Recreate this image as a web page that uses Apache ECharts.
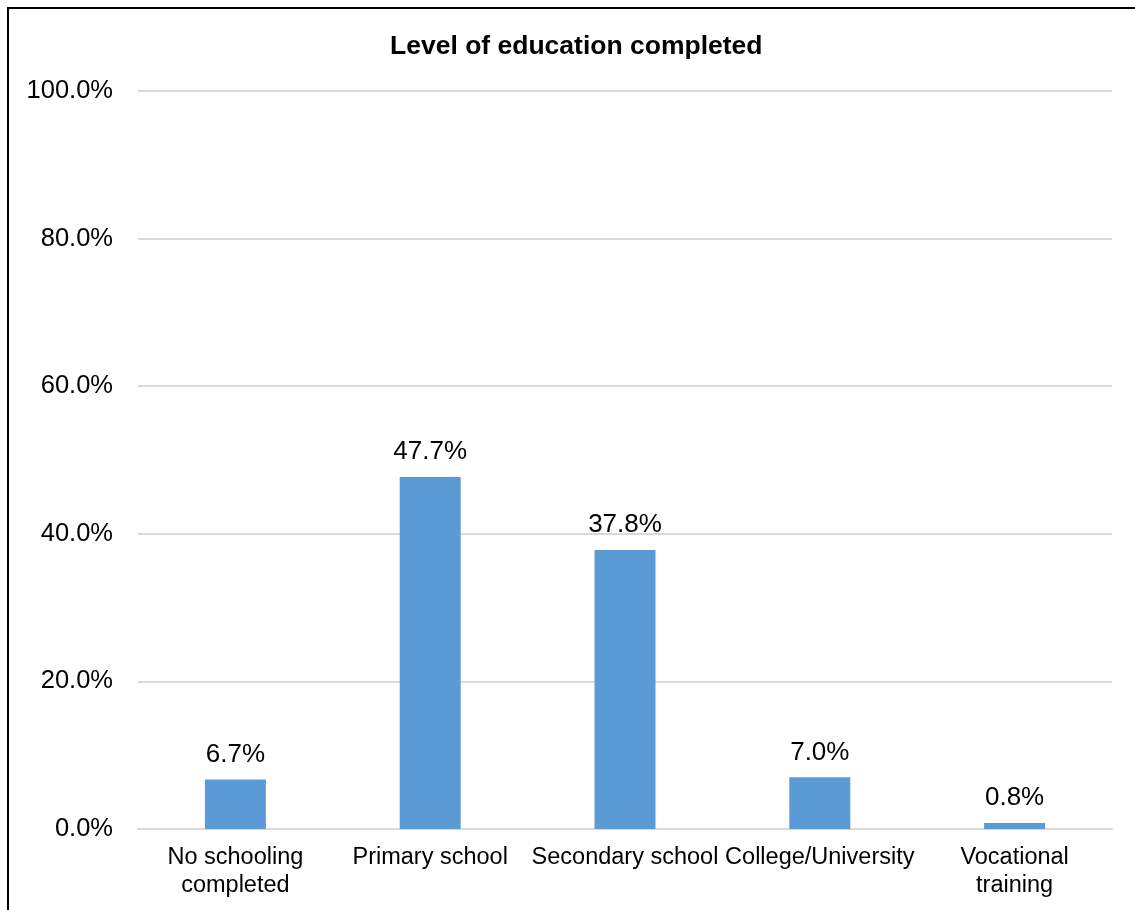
<!DOCTYPE html>
<html>
<head>
<meta charset="utf-8">
<title>Level of education completed</title>
<script src="https://cdn.jsdelivr.net/npm/echarts@6/dist/echarts.min.js"></script>
<style>
  html, body { margin: 0; padding: 0; background: #ffffff; }
  #frame {
    position: absolute; left: 7px; top: 7px; width: 1128px; height: 903px;
    border-left: 2px solid #000; border-top: 2px solid #000; box-sizing: border-box;
  }
  #chart { position: absolute; left: 0; top: 0; width: 1135px; height: 910px; }
</style>
</head>
<body>
<div id="frame"></div>
<div id="chart"></div>
<script>
// Education levels and the share of respondents (%) for each
const categories = ['No schooling\ncompleted', 'Primary school', 'Secondary school', 'College/University', 'Vocational\ntraining'];
const shares = [6.7, 47.7, 37.8, 7.0, 0.8];
const yTicks = [0, 20, 40, 60, 80, 100];

const FONT = '"Liberation Sans", Arial, sans-serif';

const chart = echarts.init(document.getElementById('chart'), null, { renderer: 'canvas' });
chart.setOption({
  animation: false,
  backgroundColor: 'transparent',
  title: {
    text: 'Level of education completed',
    left: 385,
    top: 28,
    textStyle: { fontFamily: FONT, fontSize: 26.5, fontWeight: 'bold', color: '#000' }
  },
  grid: { left: 138, right: 23, top: 91, bottom: 81, containLabel: false },
  xAxis: {
    type: 'category',
    data: categories,
    axisLine: { show: true, lineStyle: { color: '#d9d9d9', width: 2 } },
    axisTick: { show: false },
    axisLabel: {
      interval: 0, margin: 15, color: '#000',
      fontFamily: FONT, fontSize: 23.5, lineHeight: 28
    }
  },
  yAxis: {
    type: 'value',
    min: yTicks[0],
    max: yTicks[yTicks.length - 1],
    interval: yTicks[1] - yTicks[0],
    axisLine: { show: false },
    axisTick: { show: false },
    splitLine: { lineStyle: { color: '#d9d9d9', width: 2 } },
    axisLabel: {
      margin: 25, color: '#000', fontFamily: FONT, fontSize: 25.5,
      formatter: v => v.toFixed(1) + '%'
    }
  },
  series: [{
    type: 'bar',
    data: shares,
    barWidth: '31.3%',
    itemStyle: { color: '#5b9bd5' },
    label: {
      show: true, position: 'top', distance: 12,
      color: '#000', fontFamily: FONT, fontSize: 26,
      formatter: p => p.value.toFixed(1) + '%'
    }
  }]
});
</script>
</body>
</html>
